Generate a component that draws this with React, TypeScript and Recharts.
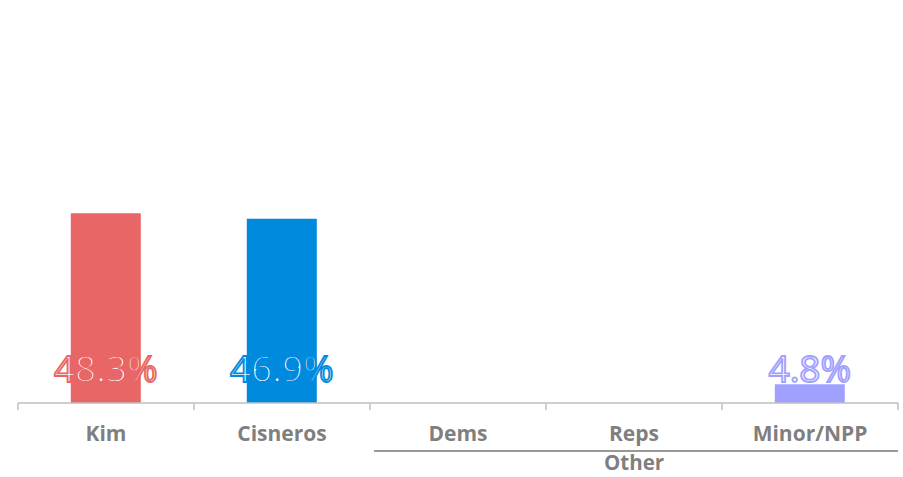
import { BarChart, Bar, XAxis, YAxis, Cell, LabelList } from 'recharts'

const CANDIDATES = ['Kim', 'Cisneros', 'Dems', 'Reps', 'Minor/NPP']
const SHARES: Array<number | null> = [48.3, 46.9, null, null, 4.8]
const GROUPS = ['', '', 'Other', 'Other', 'Other']
const COLORS = ['#E86666', '#008ADD', '#888888', '#888888', '#A0A0FF']

const data = CANDIDATES.map((name, i) => ({ name, share: SHARES[i], group: GROUPS[i] }))

const FONT = '"Open Sans", "Noto Sans", sans-serif'
const AXIS = '#BFBFBF'
const TEXT = '#7F7F7F'

function CategoryTick(props: any) {
  const { x, y, payload, index } = props
  const half = payload?.offset || 88
  const idx = payload?.index ?? index
  const group = GROUPS[idx]
  // span of the group this category sits in
  const first = GROUPS.indexOf(group)
  const last = GROUPS.lastIndexOf(group)
  const isMiddle = group && idx === Math.floor((first + last) / 2)
  return (
    <g>
      <line x1={x - half} x2={x - half} y1={y} y2={y + 7} stroke={AXIS} strokeWidth={1.5} />
      {idx === CANDIDATES.length - 1 && (
        <line x1={x + half} x2={x + half} y1={y} y2={y + 7} stroke={AXIS} strokeWidth={1.5} />
      )}
      <text x={x} y={y + 38} textAnchor="middle" fill={TEXT} fontSize={21} fontWeight={700} fontFamily={FONT}>
        {payload.value}
      </text>
      {isMiddle && (
        <g>
          <line
            x1={x - half * (2 * (idx - first) + 1) + 4}
            x2={x + half * (2 * (last - idx) + 1)}
            y1={y + 48}
            y2={y + 48}
            stroke="#999999"
            strokeWidth={2}
          />
          <text x={x} y={y + 67} textAnchor="middle" fill={TEXT} fontSize={20.5} fontWeight={700} fontFamily={FONT}>
            {group}
          </text>
        </g>
      )}
    </g>
  )
}

function ShareLabel(props: any) {
  const vb = props.viewBox ?? props
  const { value } = props
  if (value == null) return null
  const color = COLORS[SHARES.indexOf(value)] ?? '#888'
  const x = vb.x + vb.width / 2
  const bottom = vb.y + vb.height
  return (
    <text
      x={x}
      y={bottom - 21}
      textAnchor="middle"
      fill="#FFFFFF"
      stroke={color}
      strokeWidth={1.8}
      fontSize={37}
      fontFamily={FONT}
    >
      {`${value}%`}
    </text>
  )
}

export default function App() {
  return (
    <div style={{ position: 'absolute', left: 0, top: 0, width: 903, height: 477, background: '#fff' }}>
      <BarChart
        width={903}
        height={477}
        data={data}
        margin={{ top: 10, right: 5, left: 18, bottom: 0 }}
        barCategoryGap="30%"
      >
        <XAxis
          dataKey="name"
          interval={0}
          tickLine={false}
          tickSize={0}
          tickMargin={0}
          axisLine={{ stroke: AXIS, strokeWidth: 1.5 }}
          tick={<CategoryTick />}
          height={74}
        />
        <YAxis hide domain={[0, 100]} />
        <Bar dataKey="share" isAnimationActive={false}>
          {data.map((_, idx) => (
            <Cell key={idx} fill={COLORS[idx]} />
          ))}
          <LabelList dataKey="share" content={<ShareLabel />} />
        </Bar>
      </BarChart>
    </div>
  )
}
